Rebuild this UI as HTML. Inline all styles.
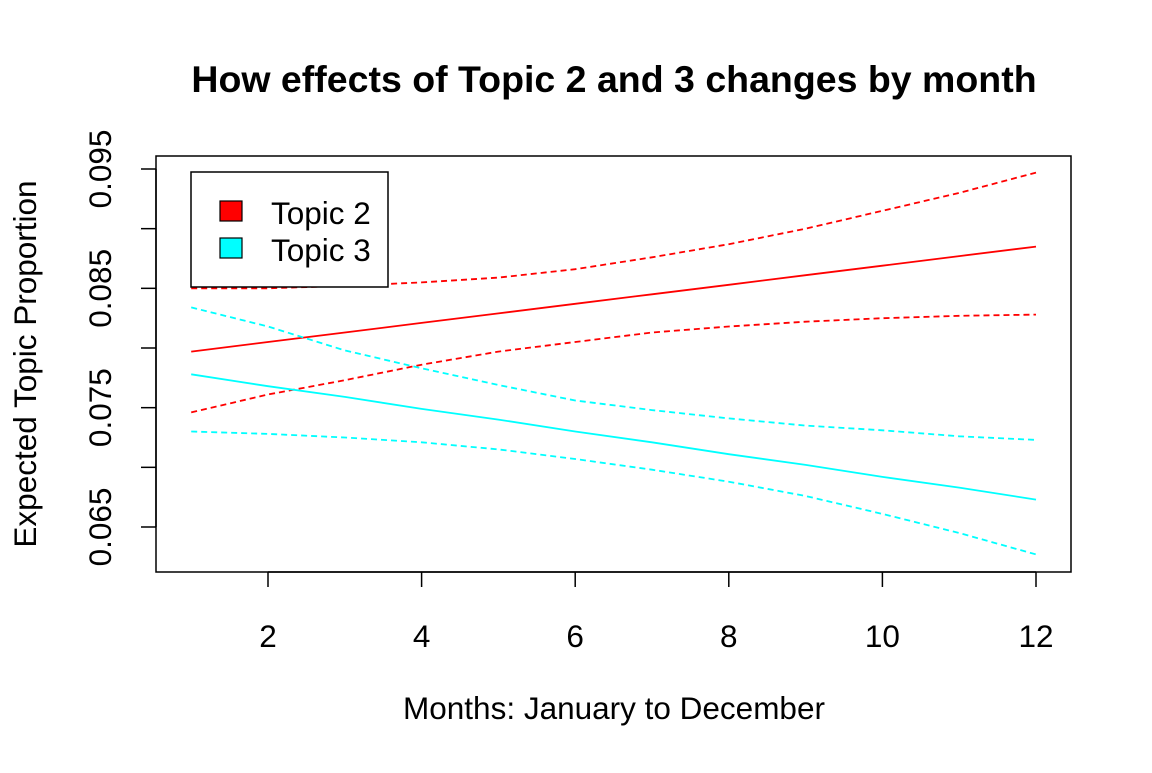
<!DOCTYPE html>
<html><head><meta charset="utf-8"><style>
html,body{margin:0;padding:0;background:#fff;}
svg text{font-family:"Liberation Sans",Arial,sans-serif;fill:#000;}
</style></head><body>
<svg id="chart" width="1152" height="768" xmlns="http://www.w3.org/2000/svg">
<rect width="1152" height="768" fill="#fff"/>
<text x="614" y="92" font-size="37.5" font-weight="bold" text-anchor="middle">How effects of Topic 2 and 3 changes by month</text>
<text x="614" y="719" font-size="31.5" text-anchor="middle">Months: January to December</text>
<text transform="translate(36,364) rotate(-90)" font-size="31.5" text-anchor="middle">Expected Topic Proportion</text>
<rect x="156" y="156" width="915" height="416" fill="none" stroke="#000" stroke-width="1.5"/>
<g id="axes"></g>
<g id="series"></g>
<g>
<rect x="191" y="172" width="197" height="115" fill="#fff" stroke="#000" stroke-width="1.5"/>
<rect x="220" y="201" width="22" height="20" fill="#ff0000" stroke="#000" stroke-width="1.2"/>
<text x="271" y="224" font-size="31.5">Topic 2</text>
<rect x="220" y="238" width="22" height="20" fill="#00ffff" stroke="#000" stroke-width="1.2"/>
<text x="271" y="261" font-size="31.5">Topic 3</text>
</g>
</svg>
<script>
const months = [1,2,3,4,5,6,7,8,9,10,11,12];
const topic2Mean = [0.0797,0.0805,0.0813,0.0821,0.0829,0.0837,0.0845,0.0853,0.0861,0.0869,0.0877,0.0885];
const topic2Upper = [0.0850,0.0850,0.0852,0.0855,0.0859,0.0866,0.0876,0.0887,0.0900,0.0915,0.0930,0.0947];
const topic2Lower = [0.0746,0.0761,0.0773,0.0786,0.0797,0.0805,0.0813,0.0818,0.0822,0.0825,0.0827,0.0828];
const topic3Mean = [0.0778,0.0768,0.0759,0.0749,0.0740,0.0730,0.0721,0.0711,0.0702,0.0692,0.0683,0.0673];
const topic3Upper = [0.0834,0.0818,0.0798,0.0783,0.0769,0.0756,0.0748,0.0741,0.0735,0.0731,0.0726,0.0723];
const topic3Lower = [0.0730,0.0728,0.0725,0.0721,0.0715,0.0707,0.0698,0.0688,0.0676,0.0661,0.0645,0.0627];
const xTicks = [2,4,6,8,10,12];
const yTicks = [0.065,0.070,0.075,0.080,0.085,0.090,0.095];
const yTickLabels = ["0.065","","0.075","","0.085","","0.095"];

const NS = "http://www.w3.org/2000/svg";
function X(m){ return 268 + (m-2)*76.8; }
function Y(v){ return 169 + (0.095 - v)*11933.3; }
const axes = document.getElementById('axes');
const series = document.getElementById('series');
function mk(tag, attrs, parent){
  const e = document.createElementNS(NS, tag);
  for (const k in attrs) e.setAttribute(k, attrs[k]);
  parent.appendChild(e); return e;
}
mk('line',{x1:X(2),x2:X(12),y1:572,y2:572,stroke:'#000','stroke-width':1.5},axes);
xTicks.forEach(t=>{
  const l = mk('line',{x1:X(t),x2:X(t),y1:572,y2:587,stroke:'#000','stroke-width':1.5},axes);
  
  
  const tx = mk('text',{x:X(t),y:647,'font-size':31.5,'text-anchor':'middle'},axes);
  tx.textContent = t;
  
  
});
mk('line',{x1:156,x2:156,y1:Y(0.065),y2:Y(0.095),stroke:'#000','stroke-width':1.5},axes);
yTicks.forEach((t,i)=>{
  const l = mk('line',{x1:141,x2:156,y1:Y(t),y2:Y(t),stroke:'#000','stroke-width':1.5},axes);
  
  
  if (yTickLabels[i]){
    const tx = mk('text',{transform:`translate(111,${Y(t)}) rotate(-90)`,'font-size':31.5,'text-anchor':'middle'},axes);
    tx.textContent = yTickLabels[i];
    
    
  }
});
function line(vals, color, dashed, name){
  const pts = months.map((m,i)=>X(m).toFixed(1)+','+Y(vals[i]).toFixed(1)).join(' ');
  const p = mk('polyline',{points:pts,fill:'none',stroke:color,'stroke-width':1.8},series);
  if (dashed) p.setAttribute('stroke-dasharray','6,4');
  
  
}
line(topic2Upper,'#ff0000',true,'topic-2-upper-ci');
line(topic2Lower,'#ff0000',true,'topic-2-lower-ci');
line(topic2Mean,'#ff0000',false,'topic-2-mean-line');
line(topic3Upper,'#00ffff',true,'topic-3-upper-ci');
line(topic3Lower,'#00ffff',true,'topic-3-lower-ci');
line(topic3Mean,'#00ffff',false,'topic-3-mean-line');
</script>
</body></html>
